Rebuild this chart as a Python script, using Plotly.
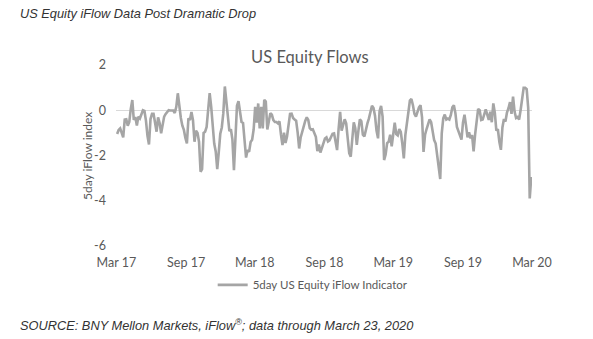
import pandas as pd
import plotly.graph_objects as go

# ---- data, one value every 4 days ----
start_date = "2017-03-27"
step = "4D"
flow_values = [
    -1.05, -0.87, -0.8, -1.0, -1.2, -0.41, -0.4, -0.68, -0.52, 0.06,      # n0-9
    0.45, -0.43, -0.3, -0.68, -0.28, -0.36, -0.12, 0.0, -0.03, -0.46,     # n10-19
    -1.13, -1.51, -0.39, -0.16, -0.16, -0.56, -0.95, -0.31, -0.56, -1.02, # n20-29
    -0.53, -0.28, -0.16, -0.06, 0.0, -0.01, 0.0, -0.01, -0.12, 0.15,      # n30-39
    0.75, 0.1, -0.34, -0.68, -0.87, -1.23, -1.47, -0.36, -0.43, -0.08,    # n40-49
    -0.44, -1.39, -0.9, -1.0, -1.4, -2.72, -2.6, -1.0, -0.95, -0.74,      # n50-59
    0.21, 0.76, 0.16, -0.8, -1.47, -1.82, -2.6, -1.85, -1.04, -0.76,      # n60-69
    -0.13, 1.05, 0.36, -0.33, -0.92, -0.84, -1.3, -2.65, -1.47, 0.2,      # n70-79
    0.4, -0.16, -0.52, -0.56, -1.27, -2.09, -1.76, -1.84, -1.4, -1.3,     # n80-89
    -0.85, 0.15, -0.55, 0.3, -0.8, 0.15, -0.8, 0.46, 0.39, -0.85,         # n90-99
    -0.5, -0.13, -0.2, -0.44, -0.52, -0.52, -0.58, -0.49, -1.07, -1.54,   # n100-109
    -0.99, -1.45, -1.16, -0.53, -0.16, -0.15, -0.34, -0.41, -0.46, -0.98, # n110-119
    -1.69, -1.2, -0.92, -0.65, -0.47, -0.31, -0.43, -0.79, -0.86, -0.84,  # n120-129
    -1.04, -1.17, -1.81, -1.51, -1.87, -1.63, -1.42, -1.25, -1.2, -1.38,  # n130-139
    -1.33, -1.17, -1.04, -1.02, -1.32, -1.76, -0.83, -0.07, -0.9, -0.61,  # n140-149
    -0.4, -0.58, -1.19, -1.9, -2.05, -1.05, -0.53, -0.79, -1.53, -0.93,   # n150-159
    -0.4, -0.49, -1.08, -1.16, -0.81, -0.58, -0.36, -0.09, 0.2, 0.1,      # n160-169
    -0.24, -0.9, -1.24, -0.04, 0.19, -0.28, -2.2, -1.96, -1.45, -1.39,    # n170-179
    -1.08, -1.6, -1.1, -0.55, -1.05, -1.11, -0.83, -0.96, -1.47, -2.13,   # n180-189
    -1.1, -0.43, -0.09, 0.43, 0.5, 0.22, -0.16, -0.28, -0.09, 0.13,       # n190-199
    0.22, -0.3, -1.84, -1.08, -0.83, -0.64, -0.4, -0.53, -1.01, -1.32,    # n200-209
    -1.47, -1.94, -2.6, -3.04, -1.02, -0.36, -0.19, -0.41, -0.37, -0.41,  # n210-219
    -0.21, 0.13, 0.22, -0.13, -0.74, -0.95, -1.19, -1.3, -0.55, -0.2,     # n220-229
    -0.67, -1.2, -0.98, -1.24, -1.1, -1.82, -1.07, -0.39, 0.06, 0.0,      # n230-239
    -0.43, -0.41, -0.12, 0.04, -0.19, -0.43, -0.06, -0.53, 0.3, -0.12,    # n240-249
    -0.9, -0.84, -1.4, -1.75, -0.76, -0.39, -0.5, -0.1, 0.09, 0.36,       # n250-259
    -0.16, 0.6, -0.06, -0.34, -0.3, -0.41, 0.01, 0.55, 0.99, 0.99,        # n260-269
    0.93, 0.1, -3.9, -2.95,                                               # n270-273
]

tick_dates = ["2017-03-25", "2017-09-25", "2018-03-25", "2018-09-25",
              "2019-03-25", "2019-09-25", "2020-03-25"]
tick_labels = ["Mar 17", "Sep 17", "Mar 18", "Sep 18", "Mar 19", "Sep 19", "Mar 20"]
y_ticks = [2, 0, -2, -4, -6]
y_tick_labels = ["2", "0", "-2", "-4", "-6"]

series_name = "5day US Equity iFlow Indicator"
chart_title = "US Equity Flows"
y_title = "5day iFlow index"
header = "US Equity iFlow Data Post Dramatic Drop"
footer = "SOURCE: BNY Mellon Markets, iFlow<sup>®</sup>; data through March 23, 2020"

dates = pd.date_range(start_date, periods=len(flow_values), freq=step)

# ---- figure ----
GRAY_TXT = "#595959"
FONT = "Lato, 'Open Sans', sans-serif"
SRC_FONT = "Liberation Sans, Arial, sans-serif"

fig = go.Figure()
fig.add_trace(go.Scatter(
    x=dates, y=flow_values, mode="lines", name=series_name,
    line=dict(color="#a5a5a5", width=2.6),
    showlegend=True,
))

fig.update_layout(
    width=593, height=339,
    margin=dict(l=116, r=61, t=65, b=93),
    paper_bgcolor="white", plot_bgcolor="white",
    font=dict(family=FONT, color=GRAY_TXT, size=12),
    title=dict(text=chart_title, x=0.466, xref="paper", xanchor="center",
               y=1 - 57 / 339, yref="container", yanchor="middle",
               font=dict(family=FONT, size=16.5, color=GRAY_TXT)),
    showlegend=True,
    legend=dict(orientation="h", x=0.474, xanchor="center", y=-0.215, yanchor="middle",
                font=dict(family=FONT, size=11.5, color=GRAY_TXT),
                bgcolor="rgba(0,0,0,0)", itemwidth=30),
    xaxis=dict(
        range=["2017-03-24", "2020-03-25"],
        tickvals=tick_dates, ticktext=tick_labels,
        showgrid=False, zeroline=False, showline=False, ticks="",
        ticklabelstandoff=7,
        tickfont=dict(family=FONT, size=12.5, color=GRAY_TXT),
    ),
    xaxis2=dict(
        overlaying="x", matches="x", anchor="free", position=0.75,
        tickvals=tick_dates, showticklabels=False,
        showgrid=False, zeroline=False, showline=False,
        ticks="outside", ticklen=4, tickcolor="#d9d9d9", tickwidth=1,
    ),
    yaxis=dict(
        range=[-6, 2], tickvals=y_ticks, ticktext=y_tick_labels,
        showgrid=False, zeroline=True, zerolinecolor="#d9d9d9", zerolinewidth=1,
        showline=False, ticks="", ticklabelstandoff=9,
        tickfont=dict(family=FONT, size=12.5, color=GRAY_TXT),
    ),
    annotations=[
        dict(text=y_title, textangle=-90, xref="paper", yref="paper",
             x=(87 - 116) / 416, y=(246 - 156) / 181, xanchor="center", yanchor="middle",
             showarrow=False, font=dict(family=FONT, size=12, color=GRAY_TXT)),
        dict(text="<i>" + header + "</i>", xref="paper", yref="paper",
             x=(18 - 116) / 416, y=(246 - 14) / 181, xanchor="left", yanchor="middle",
             showarrow=False, font=dict(family=SRC_FONT, size=12.8, color="#333333")),
        dict(text="<i>" + footer + "</i>", xref="paper", yref="paper",
             x=(18 - 116) / 416, y=(246 - 325) / 181, xanchor="left", yanchor="middle",
             showarrow=False, font=dict(family=SRC_FONT, size=12.8, color="#333333")),
    ],
)

fig.write_html("out.html")
